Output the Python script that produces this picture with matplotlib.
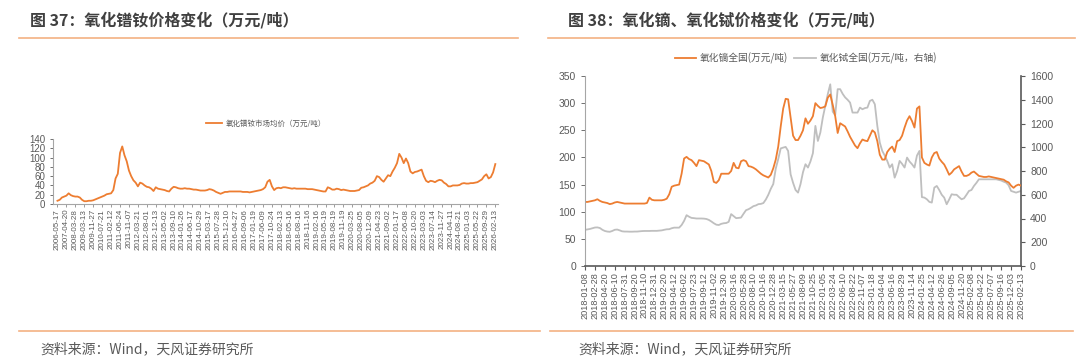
import numpy as np
import matplotlib
matplotlib.use("Agg")
import matplotlib.pyplot as plt
from matplotlib.lines import Line2D

plt.rcParams['font.family'] = ['Noto Sans CJK SC', 'DejaVu Sans']

# ---- chart 37: NdPr oxide average price, 4 readings per tick interval ----
ndpr_labels = [
    "2006-05-17", "2007-04-20", "2008-03-28", "2009-03-13", "2009-11-27",
    "2010-07-21", "2011-02-12", "2011-06-24", "2011-11-07", "2012-03-21",
    "2012-08-01", "2012-12-13", "2013-05-02", "2013-09-10", "2014-01-26",
    "2014-06-17", "2014-10-29", "2015-03-17", "2015-07-28", "2015-12-10",
    "2016-04-27", "2016-09-06", "2017-01-19", "2017-06-09", "2017-10-24",
    "2018-02-13", "2018-05-16", "2018-08-16", "2018-11-16", "2019-02-16",
    "2019-05-19", "2019-08-19", "2019-11-19", "2020-03-25", "2020-08-05",
    "2020-12-09", "2021-04-23", "2021-09-02", "2022-01-17", "2022-06-08",
    "2022-10-20", "2023-03-03", "2023-07-14", "2023-11-27", "2024-04-11",
    "2024-08-21", "2025-01-03", "2025-05-22", "2025-09-29", "2026-02-13",
]
ndpr_price = [
    7, 9, 14, 16, 18, 23, 19, 17, 16, 16, 14, 9, 6, 6, 7, 7,
    8, 10, 12, 14, 16, 18, 21, 22, 23, 30, 55, 65, 110, 124, 105, 92,
    72, 60, 51, 46, 38, 46, 44, 40, 37, 36, 33, 28, 36, 33, 32, 31,
    30, 28, 27, 33, 37, 36, 34, 33, 33, 34, 33, 33, 32, 31, 31, 30,
    29, 29, 29, 30, 32, 31, 29, 26, 24, 22, 24, 26, 26, 27, 27, 27,
    27, 27, 27, 26, 26, 26, 25, 26, 27, 28, 29, 30, 32, 36, 48, 52,
    38, 30, 34, 35, 34, 36, 36, 35, 34, 33, 34, 33, 33, 33, 33, 33,
    32, 32, 32, 31, 30, 29, 28, 27, 27, 36, 34, 31, 31, 33, 32, 30,
    31, 30, 29, 28, 28, 28, 29, 30, 35, 36, 38, 40, 44, 46, 50, 60,
    58, 52, 48, 55, 62, 60, 70, 78, 88, 108, 100, 88, 98, 88, 70, 66,
    69, 70, 72, 74, 60, 50, 47, 50, 49, 47, 50, 52, 51, 46, 43, 38,
    38, 40, 40, 40, 41, 44, 45, 44, 44, 45, 45, 46, 47, 50, 53, 60,
    64, 55, 58, 68, 86,
]

# ---- chart 38: Dy oxide (left axis) and Tb oxide (right axis) ----
dy_labels = [
    "2018-01-08", "2018-02-28", "2018-04-20", "2018-06-10", "2018-07-31",
    "2018-09-20", "2018-11-10", "2018-12-31", "2019-02-20", "2019-04-12",
    "2019-06-02", "2019-07-23", "2019-09-12", "2019-11-02", "2019-12-30",
    "2020-03-16", "2020-05-28", "2020-08-10", "2020-10-16", "2020-12-28",
    "2021-03-15", "2021-05-27", "2021-08-09", "2021-10-25", "2022-01-05",
    "2022-03-24", "2022-06-10", "2022-08-22", "2022-11-07", "2023-01-18",
    "2023-04-04", "2023-06-16", "2023-08-29", "2023-11-14", "2024-01-25",
    "2024-04-12", "2024-06-26", "2024-09-05", "2024-11-20", "2025-02-08",
    "2025-04-22", "2025-07-07", "2025-09-16", "2025-12-03", "2026-02-13",
]
dy_price = [
    118, 118, 119, 120, 121, 123, 120, 118, 117, 116, 114, 115, 117, 118, 117, 116,
    115, 115, 115, 115, 115, 115, 115, 115, 115, 116, 126, 122, 121, 121, 121, 121,
    122, 124, 132, 146, 148, 149, 150, 170, 198, 201, 197, 195, 190, 184, 195, 194,
    193, 190, 187, 175, 155, 153, 158, 170, 170, 170, 170, 175, 190, 181, 180, 193,
    195, 193, 184, 183, 181, 178, 174, 170, 167, 165, 163, 168, 180, 196, 220, 257,
    290, 308, 307, 273, 240, 232, 232, 240, 250, 272, 262, 268, 276, 300, 295, 291,
    292, 294, 310, 316, 297, 276, 245, 263, 260, 257, 248, 238, 230, 222, 217, 226,
    233, 231, 230, 240, 250, 246, 230, 205, 196, 196, 210, 216, 220, 210, 230, 232,
    240, 255, 268, 276, 267, 255, 290, 294, 200, 190, 187, 185, 200, 208, 210, 198,
    192, 187, 178, 168, 172, 178, 181, 184, 174, 166, 166, 168, 172, 174, 170, 166,
    165, 164, 164, 165, 164, 163, 162, 161, 160, 159, 156, 154, 148, 144, 148, 150,
    148,
]
tb_price = [
    305, 308, 312, 318, 324, 325, 320, 305, 295, 290, 288, 295, 305, 307, 300, 292,
    290, 290, 289, 289, 290, 290, 292, 294, 295, 295, 295, 296, 296, 296, 298, 300,
    305, 309, 310, 318, 323, 323, 323, 345, 380, 428, 415, 405, 403, 400, 400, 400,
    399, 396, 388, 375, 360, 348, 345, 355, 360, 362, 372, 437, 420, 403, 405, 408,
    440, 470, 478, 490, 504, 510, 521, 523, 530, 560, 600, 650, 690, 820, 900, 990,
    997, 1003, 969, 772, 700, 640, 618, 690, 790, 857, 829, 880, 950, 1180, 1053, 1124,
    1250, 1350, 1447, 1530, 1300, 1270, 1489, 1489, 1450, 1420, 1400, 1376, 1292, 1292, 1292, 1334,
    1320, 1330, 1334, 1390, 1400, 1362, 1180, 1039, 969, 930, 885, 829, 857, 744, 800, 885,
    860, 829, 913, 880, 857, 829, 930, 969, 580, 576, 562, 540, 534, 660, 674, 640,
    600, 576, 520, 560, 604, 600, 600, 580, 562, 570, 600, 632, 640, 674, 700, 730,
    730, 730, 730, 730, 730, 730, 730, 725, 720, 710, 702, 680, 632, 625, 618, 625,
    632,
]

ORANGE = "#ED7D31"
GREY = "#BFBFBF"
RULE = "#F4B183"
TXT = "#595959"
W, H = 1080, 360


def fx(px):
    return px / W


def fy(py):
    return 1 - py / H


fig = plt.figure(figsize=(W / 100, H / 100), dpi=100)

# titles, rules and source lines
fig.text(fx(30), fy(20), "图 37：氧化镨钕价格变化（万元/吨）", fontsize=11.5,
         fontweight="bold", color="#404040", va="center")
fig.text(fx(568), fy(20), "图 38：氧化镝、氧化铽价格变化（万元/吨）", fontsize=11.5,
         fontweight="bold", color="#404040", va="center")
for x0, x1, y in [(19, 518, 38), (548, 1075, 38), (19, 540, 331), (550, 1073, 331)]:
    fig.add_artist(Line2D([fx(x0), fx(x1)], [fy(y), fy(y)], color=RULE, lw=1.2))
for x0 in (40, 578):
    fig.text(fx(x0), fy(349), "资料来源：Wind，天风证券研究所", fontsize=10,
             color=TXT, va="center")

tick_font = ["Liberation Sans", "DejaVu Sans"]

# ---- left chart ----
ax1 = fig.add_axes([fx(53), fy(204), fx(498) - fx(53), (204 - 139) / H])
x1 = np.arange(len(ndpr_price)) / 4
ax1.plot(x1, ndpr_price, color=ORANGE, lw=1.3, label="氧化镨钕市场均价（万元/吨）")
ax1.set_xlim(-0.5, 49.3)
ax1.set_ylim(0, 140)
ax1.set_yticks(range(0, 141, 20))
ax1.set_xticks(range(len(ndpr_labels)))
ax1.set_xticklabels(ndpr_labels, rotation=90, fontsize=5.8, family=tick_font, color=TXT)
for lab in ax1.get_yticklabels():
    lab.set_family(tick_font)
ax1.tick_params(axis="y", labelsize=7, colors=TXT, length=2, width=0.6)
ax1.tick_params(axis="x", length=2, width=0.6, colors="#8C8C8C", labelcolor=TXT, pad=1.5)
for s in ("top", "right"):
    ax1.spines[s].set_visible(False)
for s in ("left", "bottom"):
    ax1.spines[s].set_color("#A6A6A6")
    ax1.spines[s].set_linewidth(0.8)
ax1.legend(loc="center", bbox_to_anchor=(fx(266), fy(124)), bbox_transform=fig.transFigure,
           frameon=False, fontsize=5.4, handlelength=2.2, handletextpad=0.5,
           labelcolor=TXT)

# ---- right chart ----
ax2 = fig.add_axes([fx(585), fy(266), fx(1021) - fx(585), (266 - 76) / H])
x2 = np.arange(len(dy_price)) / 4
l1, = ax2.plot(x2, dy_price, color=ORANGE, lw=1.3, label="氧化镝全国(万元/吨)")
ax3 = ax2.twinx()
l2, = ax3.plot(x2, tb_price, color=GREY, lw=1.3, label="氧化铽全国(万元/吨，右轴)")
ax2.set_zorder(ax3.get_zorder() + 1)
ax2.patch.set_visible(False)
ax2.set_xlim(0, 44)
ax2.set_ylim(0, 350)
ax2.set_yticks(range(0, 351, 50))
ax3.set_ylim(0, 1600)
ax3.set_yticks(range(0, 1601, 200))
ax2.set_xticks(range(len(dy_labels)))
ax2.set_xticklabels(dy_labels, rotation=90, fontsize=6.6, family=tick_font, color=TXT)
for lab in ax2.get_yticklabels() + ax3.get_yticklabels():
    lab.set_family(tick_font)
ax2.tick_params(axis="y", labelsize=7.5, colors=TXT, length=3, width=0.6)
ax3.tick_params(axis="y", labelsize=7.5, colors=TXT, length=3, width=0.8)
ax2.tick_params(axis="x", length=3, width=0.8, colors="#595959", labelcolor=TXT, pad=1.5)
for ax in (ax2, ax3):
    ax.spines["top"].set_visible(False)
ax2.spines["right"].set_visible(False)
ax3.spines["left"].set_visible(False)
ax3.spines["bottom"].set_visible(False)
ax2.spines["left"].set_color("#A6A6A6")
ax2.spines["left"].set_linewidth(0.8)
ax2.spines["bottom"].set_color("#595959")
ax2.spines["bottom"].set_linewidth(1.2)
ax3.spines["right"].set_color("#595959")
ax3.spines["right"].set_linewidth(1.2)
ax2.legend(handles=[l1, l2], loc="center", bbox_to_anchor=(fx(806), fy(58)),
           bbox_transform=fig.transFigure, ncol=2, frameon=False, fontsize=7,
           handlelength=2.2, handletextpad=0.4, columnspacing=0.6, labelcolor=TXT)

fig.savefig("out.png", dpi=100)
